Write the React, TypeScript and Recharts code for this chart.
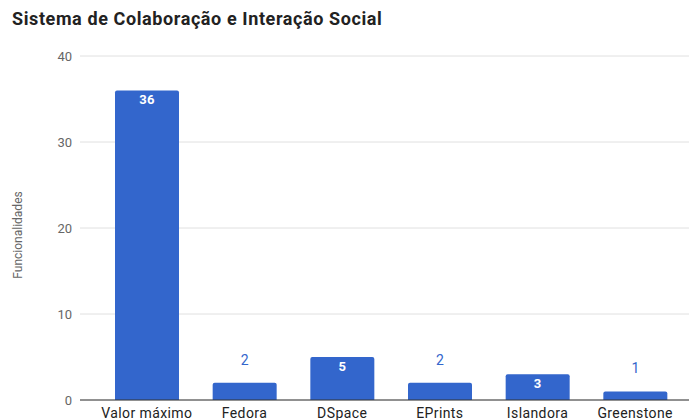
import { BarChart, Bar, XAxis, YAxis, CartesianGrid, LabelList } from 'recharts';

const categories = ['Valor máximo', 'Fedora', 'DSpace', 'EPrints', 'Islandora', 'Greenstone'];
const values = [36, 2, 5, 2, 3, 1];
const yTicks = [0, 10, 20, 30, 40];

const data = categories.map((name, i) => ({ name, value: values[i] }));

const BLUE = '#3366cc';

function ValueLabel(props: any) {
  const { x, y, width, value } = props;
  const cx = x + width / 2;
  if (value >= 3) {
    return (
      <text x={cx} y={y + 14} textAnchor="middle" fill="#ffffff" fontSize={13} fontWeight="bold" fontFamily="Roboto" letterSpacing={0.3}>
        {value}
      </text>
    );
  }
  return (
    <text x={cx} y={y - 18} textAnchor="middle" fill={BLUE} fontSize={14} fontFamily="Roboto">
      {value}
    </text>
  );
}

function AxisTitle(props: any) {
  const { viewBox } = props;
  const cy = viewBox.y + viewBox.height / 2 + 7;
  return (
    <text x={22} y={cy} transform={`rotate(-90, 22, ${cy})`} textAnchor="middle" fill="#666666" fontSize={12} fontFamily="Roboto">
      Funcionalidades
    </text>
  );
}

export default function App() {
  return (
    <div style={{ position: 'absolute', left: 0, top: 0, width: 689, height: 420, background: '#fff', fontFamily: 'Roboto' }}>
      <div style={{ position: 'absolute', left: 12, top: 8, fontSize: 18, fontWeight: 'bold', color: '#222', letterSpacing: 0.6 }}>
        Sistema de Colaboração e Interação Social
      </div>
      <BarChart width={689} height={420} data={data} margin={{ top: 56, right: 0, bottom: 0, left: 0 }}>
        <CartesianGrid vertical={false} stroke="#e0e0e0" />
        <XAxis
          dataKey="name"
          height={20}
          tickLine={false}
          axisLine={{ stroke: '#333' }}
          tick={{ fill: '#222', fontSize: 14, letterSpacing: 0.4 }}
          tickMargin={2}
          padding={{ left: 18, right: 5 }}
          interval={0}
        />
        <YAxis
          width={80}
          domain={[0, 40]}
          ticks={yTicks}
          tickLine={false}
          axisLine={false}
          tick={{ fill: '#666', fontSize: 13 }}
          label={<AxisTitle />}
        />
        <Bar dataKey="value" fill={BLUE} barSize={64} radius={[2, 2, 0, 0]} isAnimationActive={false}>
          <LabelList dataKey="value" content={<ValueLabel />} />
        </Bar>
      </BarChart>
    </div>
  );
}
